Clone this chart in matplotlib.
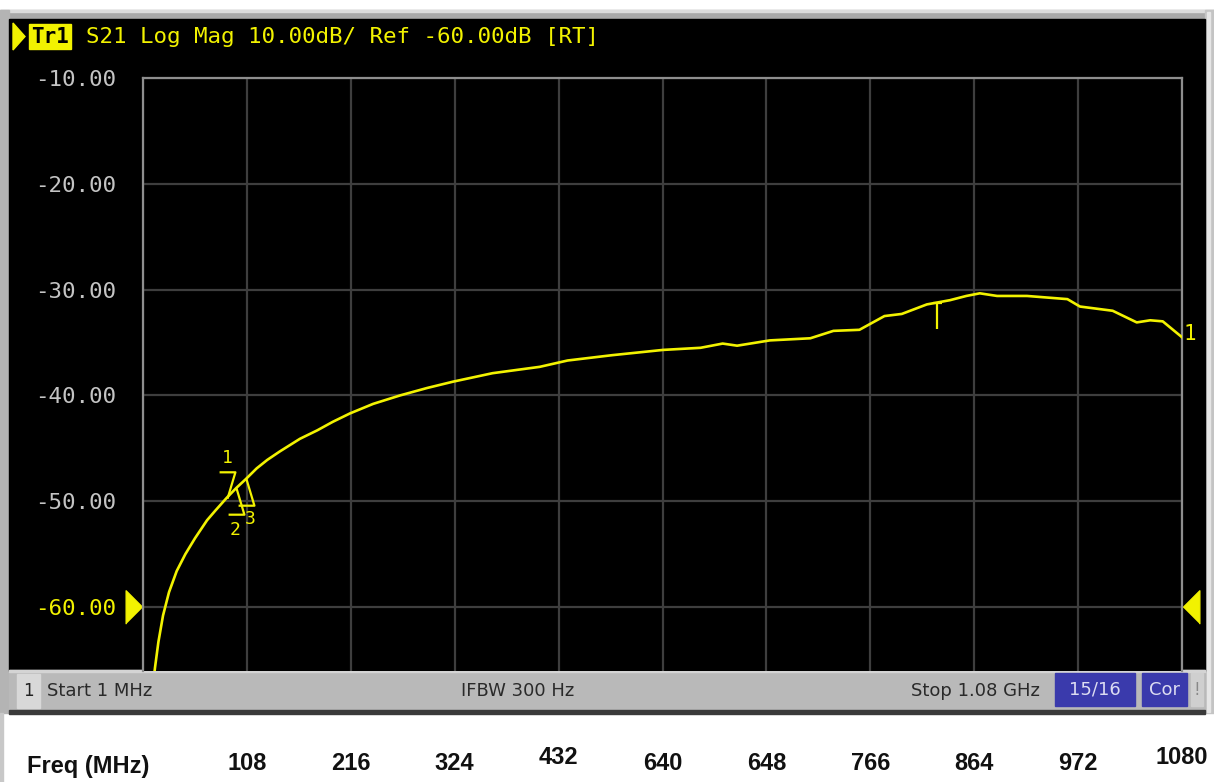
import numpy as np
import matplotlib
matplotlib.use('Agg')
import matplotlib.pyplot as plt
from matplotlib.patches import Rectangle, Polygon
from matplotlib import transforms

freq_mhz = [8, 13.5, 17, 21.8, 28, 36, 45, 55, 67.5, 76, 88, 98, 108, 119, 130, 143,
            164, 182, 198, 216, 240, 268, 296, 323, 364, 413, 442, 488, 541, 580,
            603, 618, 652, 694, 718, 745, 771, 789, 815, 839, 856, 870, 888, 919,
            961, 974, 1008, 1033, 1047, 1060, 1080]
s21_db = [-70.0, -65.7, -63.3, -60.8, -58.6, -56.6, -55.0, -53.5, -51.8, -50.9,
          -49.672, -48.738, -47.890, -46.9, -46.1, -45.3, -44.1, -43.3, -42.5, -41.7,
          -40.8, -40.0, -39.3, -38.7, -37.9, -37.3, -36.7, -36.2, -35.7, -35.5, -35.1,
          -35.3, -34.8, -34.6, -33.9, -33.8, -32.5, -32.3, -31.4, -31.0, -30.6,
          -30.35, -30.6, -30.6, -30.9, -31.6, -32.0, -33.1, -32.9, -33.0, -34.5]

marker_freq = [88, 98, 108]
marker_db = [-49.672, -48.738, -47.890]

glitch_freq = [826]
glitch_db = [(-31.3, -33.7)]

grid_db = [-10, -20, -30, -40, -50, -60]
ref_db = -60
freq_start, freq_stop = 1, 1080
bottom_labels = ['108', '216', '324', '432', '640', '648', '766', '864', '972', '1080']

header = 'S21 Log Mag 10.00dB/ Ref -60.00dB [RT]'
status_left = 'Start 1 MHz'
status_mid = 'IFBW 300 Hz'
status_right = 'Stop 1.08 GHz'

YEL = '#f2f200'
MONO = 'DejaVu Sans Mono'
W, H = 1214, 782

fig = plt.figure(figsize=(W / 100, H / 100), dpi=100, facecolor='white')

# capa de fondo en pixeles (marco, panel negro, barra de estado)
bg = fig.add_axes([0, 0, 1, 1])
bg.set_xlim(0, W)
bg.set_ylim(H, 0)
bg.axis('off')

bg.add_patch(Rectangle((0, 10), W, 9, color='#a9a9a9'))
bg.add_patch(Rectangle((0, 10), W, 2, color='#dcdcdc'))
bg.add_patch(Rectangle((0, 10), 9, 703, color='#b4b4b4'))
bg.add_patch(Rectangle((1205, 10), 9, 703, color='#c4c4c4'))
bg.add_patch(Rectangle((1207, 12), 3, 700, color='#e6e6e6'))
bg.add_patch(Rectangle((0, 713), 3, 69, color='#c8c8c8'))
bg.add_patch(Rectangle((9, 19), 1196, 652, color='black'))

# barra de estado
bg.add_patch(Rectangle((9, 670), 1196, 41, color='#b9b9b9'))
bg.add_patch(Rectangle((9, 670), 1196, 2, color='#d4d4d4'))
bg.add_patch(Rectangle((9, 710), 1196, 4, color='#3a3a3a'))
bg.add_patch(Rectangle((17, 674), 23, 34, color='#d8d8d8'))
bg.text(28, 691, '1', ha='center', va='center', fontsize=12, color='#222222')
bg.text(47, 691, status_left, ha='left', va='center', fontsize=13, color='#2a2a2a')
bg.text(518, 691, status_mid, ha='center', va='center', fontsize=13, color='#2a2a2a')
bg.text(1040, 691, status_right, ha='right', va='center', fontsize=13, color='#2a2a2a')
bg.add_patch(Rectangle((1055, 673), 80, 33, color='#3a3aac'))
bg.text(1095, 690, '15/16', ha='center', va='center', fontsize=13, color='#dcdcf2')
bg.add_patch(Rectangle((1142, 673), 45, 33, color='#3a3aac'))
bg.text(1164, 690, 'Cor', ha='center', va='center', fontsize=13, color='#dcdcf2')
bg.add_patch(Rectangle((1191, 673), 12, 33, color='#cfcfcf'))
bg.text(1197, 690, '!', ha='center', va='center', fontsize=12, color='#888888')

# cabecera de la traza
bg.add_patch(Polygon([(13, 23), (13, 50), (25, 36.5)], closed=True, color=YEL))
bg.add_patch(Rectangle((29, 24), 42, 25, color=YEL))
bg.text(50, 37, 'Tr1', ha='center', va='center', family=MONO, fontsize=15,
        fontweight='bold', color='black')
bg.text(86, 37, header, ha='left', va='center', family=MONO, fontsize=16.2,
        color=YEL)

# tabla de marcadores
for i, (f, d) in enumerate(zip(marker_freq, marker_db)):
    prefix = '>' if i == 0 else ' '
    prec = 8 - len(str(int(f)))
    fstr = f'{f:.{prec}f}'
    row = f'{prefix}{i + 1} {fstr:>10} MHz {d:.3f} dB'
    bg.text(151, 99 + i * 26.5, row, ha='left', va='center', family=MONO,
            fontsize=16.2, color=YEL)

# ---- area de la grafica ----
left, right, top, bottom = 143, 1182, 78, 670.5
ax = fig.add_axes([left / W, 1 - bottom / H, (right - left) / W, (bottom - top) / H])
ax.set_facecolor('black')
ax.set_xlim(freq_start, freq_stop)
ax.set_ylim(-66, -10)

grid_x = np.linspace(freq_start, freq_stop, 11)
ax.set_xticks(grid_x)
ax.set_xticklabels([])
ax.set_yticks(grid_db)
ax.set_yticklabels([f'{v:.2f}' for v in grid_db], family=MONO, fontsize=16.2)
ax.tick_params(length=0, pad=19, labelcolor='#c4c4c4')
for lab, v in zip(ax.get_yticklabels(), grid_db):
    if v == ref_db:
        lab.set_color(YEL)
ax.grid(True, color='#3e3e3e', lw=1.6)
ax.set_axisbelow(True)
for s in ['left', 'top', 'right']:
    ax.spines[s].set_color('#8e8e8e')
    ax.spines[s].set_linewidth(1.6)
ax.spines['bottom'].set_visible(False)

# traza S21
ax.plot(freq_mhz, s21_db, color=YEL, lw=1.9, zorder=3)

# triangulos del nivel de referencia
ytr = ax.get_yaxis_transform()
ax.plot([-0.0087], [ref_db], transform=ytr, clip_on=False, ls='none',
        marker=[(-0.5, -1), (-0.5, 1), (0.5, 0)], markersize=24, color=YEL)
ax.plot([1.0087], [ref_db], transform=ytr, clip_on=False, ls='none',
        marker=[(0.5, -1), (0.5, 1), (-0.5, 0)], markersize=24, color=YEL)

# marcadores 1, 2, 3
up = transforms.offset_copy(ax.transData, fig=fig, x=0, y=13, units='dots')
down = transforms.offset_copy(ax.transData, fig=fig, x=0, y=-13, units='dots')
label_off = [(0, 40), (-1, -42), (4, -40)]
for i, (f, d) in enumerate(zip(marker_freq, marker_db)):
    if i == 0:
        ax.plot([f], [d], transform=up, ls='none', marker=[(-0.6, 1), (0.6, 1), (0, -1)],
                markersize=19, mfc='none', mec=YEL, mew=1.6, zorder=4)
    else:
        ax.plot([f], [d], transform=down, ls='none', marker=[(-0.6, -1), (0.6, -1), (0, 1)],
                markersize=19, mfc='none', mec=YEL, mew=1.6, zorder=4)
    ax.annotate(str(i + 1), (f, d), xytext=label_off[i], textcoords='offset pixels',
                ha='center', va='center', family=MONO, fontsize=13, color=YEL)

# pequena marca en la traza cerca de 826 MHz
for f, (d0, d1) in zip(glitch_freq, glitch_db):
    ax.vlines(f, d1, d0, color=YEL, lw=1.6, zorder=3)
    ax.hlines(d0, f - 5, f + 5, color=YEL, lw=1.6, zorder=3)

# numero de traza al final
ax.annotate('1', (freq_mhz[-1], s21_db[-1]), xytext=(2, 3), textcoords='offset pixels',
            ha='left', va='center', family=MONO, fontsize=15, color=YEL,
            annotation_clip=False)

# ---- fila inferior de frecuencias ----
bt = transforms.blended_transform_factory(ax.transData, bg.transData)
bg.text(27, 766, 'Freq (MHz)', ha='left', va='center', fontsize=17,
        fontweight='bold', family='Liberation Sans', color='#111111')
for x, lab in zip(grid_x[1:], bottom_labels):
    yy = 757 if lab in ('432', '1080') else 763
    bg.text(x, yy, lab, transform=bt, ha='center', va='center', fontsize=17,
            fontweight='bold', family='Liberation Sans', color='#111111')

fig.savefig('out.png', dpi=100, facecolor='white')
